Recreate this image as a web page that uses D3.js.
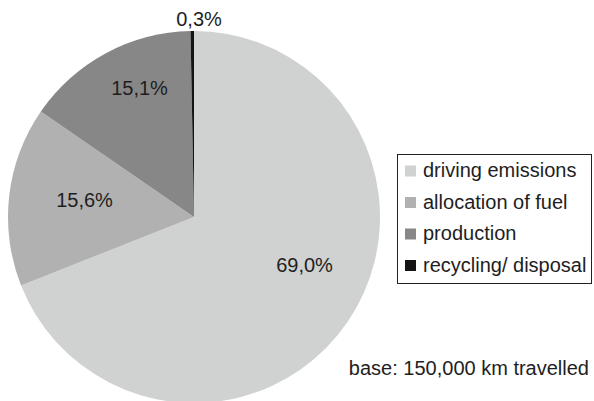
<!DOCTYPE html>
<html>
<head>
<meta charset="utf-8">
<script src="https://cdn.jsdelivr.net/npm/d3@7"></script>
<style>
  body { margin: 0; background: #fff; }
  text { font-family: "Liberation Sans", Arial, Helvetica, sans-serif; fill: #1e1e1e; }
</style>
</head>
<body>
<div id="chart"></div>
<script>
// data (clockwise from 12 o'clock)
var categories = ["driving emissions", "allocation of fuel", "production", "recycling/ disposal"];
var values = [69.0, 15.6, 15.1, 0.3];
var valueLabels = ["69,0%", "15,6%", "15,1%", "0,3%"];
var colors = ["#d0d1d1", "#b1b1b1", "#878787", "#141414"];
var note = "base: 150,000 km travelled";

// layout
var width = 594, height = 401,
    cx = 194, cy = 217, radius = 186;

// hand-placed label baselines relative to pie centre (as in the original)
var labelOffsets = [[110.5, 55], [-109.5, -10], [-54.5, -122], [5, -191]];

var svg = d3.select("#chart").append("svg")
    .attr("width", width)
    .attr("height", height);

var pie = d3.pie().sort(null).value(function(d) { return d; });
var arc = d3.arc().innerRadius(0).outerRadius(radius);

var g = svg.append("g")
    .attr("transform", "translate(" + cx + "," + cy + ")");

g.selectAll("path")
    .data(pie(values))
  .enter().append("path")
    .attr("d", arc)
    .attr("fill", function(d, i) { return colors[i]; });

g.selectAll(".lbl")
    .data(valueLabels)
  .enter().append("text")
    .attr("class", "lbl")
    .attr("x", function(d, i) { return labelOffsets[i][0]; })
    .attr("y", function(d, i) { return labelOffsets[i][1]; })
    .attr("text-anchor", "middle")
    .style("font-size", "20px")
    .text(function(d) { return d; });

// legend
var legend = svg.append("g").attr("transform", "translate(397,154)");
legend.append("rect")
    .attr("x", 0.5).attr("y", 0.5)
    .attr("width", 194).attr("height", 129)
    .attr("fill", "#fff")
    .attr("stroke", "#222")
    .attr("stroke-width", 1);

var rows = legend.selectAll(".row")
    .data(categories)
  .enter().append("g")
    .attr("class", "row")
    .attr("transform", function(d, i) { return "translate(8," + (23 + i * 31.5) + ")"; });

rows.append("rect")
    .attr("x", 0).attr("y", -11.5)
    .attr("width", 11).attr("height", 11)
    .attr("fill", function(d, i) { return colors[i]; });

rows.append("text")
    .attr("x", 18)
    .style("font-size", "20px")
    .text(function(d) { return d; });

svg.append("text")
    .attr("x", 589)
    .attr("y", 375)
    .attr("text-anchor", "end")
    .style("font-size", "20px")
    .text(note);
</script>
</body>
</html>
